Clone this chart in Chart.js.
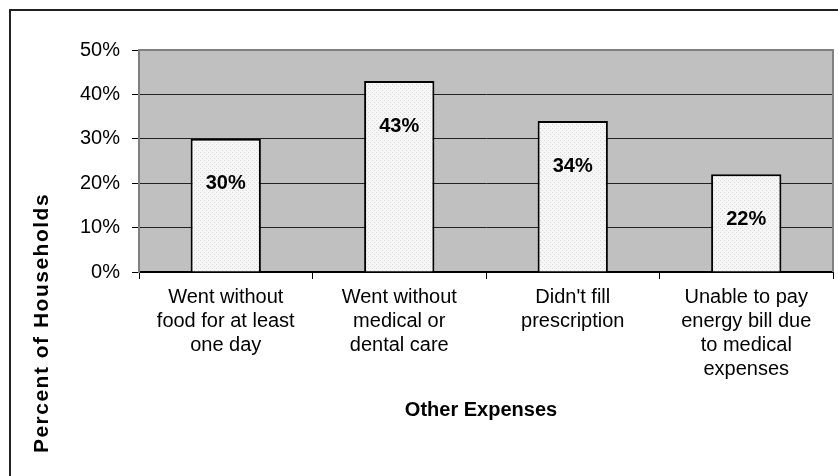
<!DOCTYPE html>
<html>
<head>
<meta charset="utf-8">
<script src="https://cdn.jsdelivr.net/npm/chart.js@4.4.0/dist/chart.umd.min.js"></script>
<style>
  html, body { margin: 0; padding: 0; background: #fff; }
  #wrap { width: 838px; height: 476px; }
</style>
</head>
<body>
<div id="wrap"><canvas id="expensesChart" width="838" height="476"></canvas></div>
<script>
// categories (multi-line tick labels), values in percent, y ticks
var categories = [
  ['Went without', 'food for at least', 'one day'],
  ['Went without', 'medical or', 'dental care'],
  ["Didn't fill", 'prescription'],
  ['Unable to pay', 'energy bill due', 'to medical', 'expenses']
];
var householdPct = [30, 43, 34, 22];
var yTicks = [0, 10, 20, 30, 40, 50];
var yTitle = 'Percent of Households';
var xTitle = 'Other Expenses';

var FONT = '"Liberation Sans", Arial, sans-serif';

// light dotted fill for the bars
function dotPattern() {
  var c = document.createElement('canvas');
  c.width = 4; c.height = 4;
  var g = c.getContext('2d');
  g.fillStyle = '#f6f6f6';
  g.fillRect(0, 0, 4, 4);
  g.fillStyle = '#d9d9d9';
  g.fillRect(0, 0, 1, 1);
  g.fillRect(2, 2, 1, 1);
  return g.createPattern(c, 'repeat');
}

var frame = {
  id: 'frame',
  beforeDraw: function(chart) {
    var ctx = chart.ctx, a = chart.chartArea;
    ctx.save();
    ctx.fillStyle = '#fff';
    ctx.fillRect(0, 0, chart.width, chart.height);
    // outer border (top and left)
    ctx.strokeStyle = '#222';
    ctx.lineWidth = 2;
    ctx.beginPath();
    ctx.moveTo(10, chart.height);
    ctx.lineTo(10, 10);
    ctx.lineTo(chart.width, 10);
    ctx.stroke();
    // plot background
    ctx.fillStyle = '#c0c0c0';
    ctx.fillRect(a.left, a.top, a.right - a.left, a.bottom - a.top);
    ctx.restore();
  },
  beforeDatasetsDraw: function(chart) {
    var ctx = chart.ctx, a = chart.chartArea;
    ctx.save();
    ctx.strokeStyle = '#808080';
    ctx.lineWidth = 2;
    ctx.beginPath();
    ctx.moveTo(a.left, a.top);
    ctx.lineTo(a.right, a.top);
    ctx.lineTo(a.right, a.bottom);
    ctx.stroke();
    ctx.restore();
  },
  afterDraw: function(chart) {
    var ctx = chart.ctx;
    ctx.save();
    // value labels inside the bars
    ctx.fillStyle = '#000';
    ctx.font = 'bold 20px ' + FONT;
    ctx.textAlign = 'center';
    ctx.textBaseline = 'middle';
    chart.getDatasetMeta(0).data.forEach(function(bar, i) {
      ctx.fillText(householdPct[i] + '%', bar.x, bar.y + 45);
    });
    // axis titles
    ctx.fillText(xTitle, 481, 410);
    ctx.translate(42, 323);
    ctx.rotate(-Math.PI / 2);
    ctx.font = 'bold 21px ' + FONT;
    ctx.letterSpacing = '1.5px';
    ctx.fillText(yTitle, 0, 0);
    ctx.restore();
  }
};

new Chart(document.getElementById('expensesChart').getContext('2d'), {
  type: 'bar',
  data: {
    labels: categories,
    datasets: [{
      data: householdPct,
      backgroundColor: dotPattern(),
      borderColor: '#000',
      borderWidth: 2,
      categoryPercentage: 1,
      barPercentage: 0.405
    }]
  },
  options: {
    responsive: false,
    animation: false,
    devicePixelRatio: 1,
    layout: { padding: { top: 50, right: 5, left: 0, bottom: 0 } },
    plugins: { legend: { display: false }, tooltip: { enabled: false } },
    scales: {
      x: {
        grid: {
          display: true,
          drawOnChartArea: false,
          drawTicks: true,
          tickLength: 7,
          tickColor: '#000',
          offset: true
        },
        border: { color: '#000', width: 2 },
        ticks: {
          color: '#000',
          padding: 6,
          maxRotation: 0,
          autoSkip: false,
          font: { family: FONT, size: 20, lineHeight: 1.2 }
        },
        afterFit: function(scale) { scale.height = 204; }
      },
      y: {
        min: yTicks[0],
        max: yTicks[yTicks.length - 1],
        afterBuildTicks: function(scale) {
          scale.ticks = yTicks.map(function(v) { return { value: v }; });
        },
        grid: {
          color: function(c) { return c.tick && c.tick.value === 50 ? 'rgba(0,0,0,0)' : '#222'; },
          lineWidth: 1,
          tickLength: 7,
          tickColor: '#000'
        },
        border: { color: '#808080', width: 2 },
        ticks: {
          color: '#000',
          padding: 12,
          font: { family: FONT, size: 20 },
          callback: function(v) { return v + '%'; }
        },
        afterFit: function(scale) { scale.width = 139; }
      }
    }
  },
  plugins: [frame]
});
</script>
</body>
</html>
